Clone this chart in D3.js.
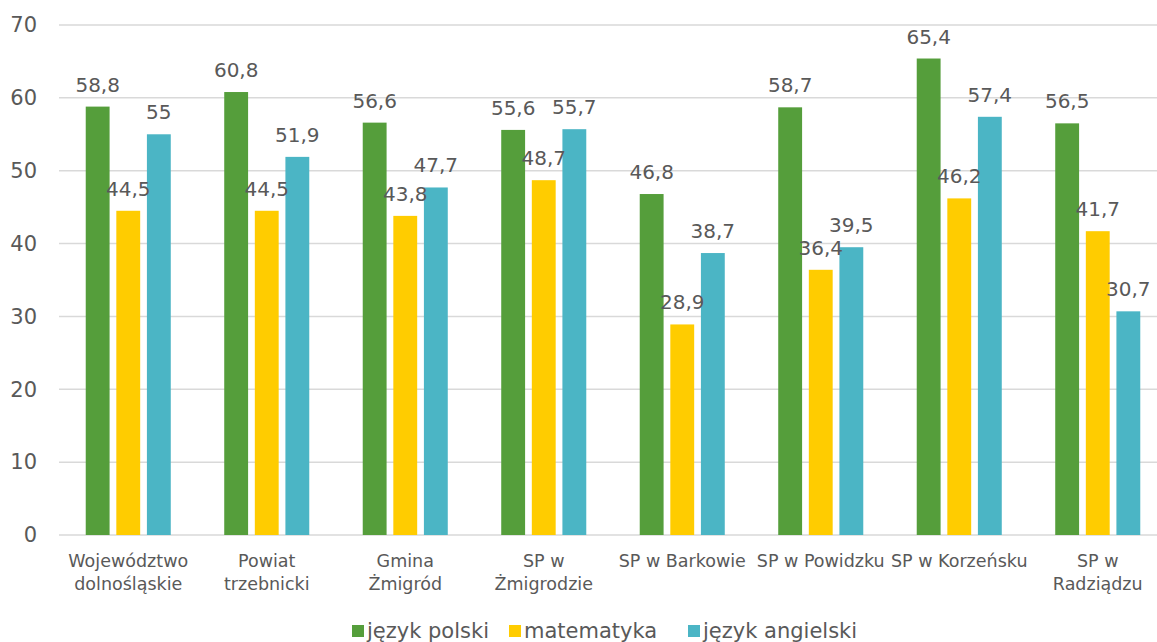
<!DOCTYPE html>
<html>
<head>
<meta charset="utf-8">
<script src="https://cdn.jsdelivr.net/npm/d3@7"></script>
<style>
  body { margin: 0; background: #fff; }
  svg { display: block; font-family: "DejaVu Sans", sans-serif; }
</style>
</head>
<body>
<svg id="chart" width="1157" height="642"></svg>
<script>
// categories (line breaks as in the original axis)
var categories = [
  'Województwo\ndolnośląskie',
  'Powiat\ntrzebnicki',
  'Gmina\nŻmigród',
  'SP w\nŻmigrodzie',
  'SP w Barkowie',
  'SP w Powidzku',
  'SP w Korzeńsku',
  'SP w\nRadziądzu'
];
var seriesNames = ['język polski', 'matematyka', 'język angielski'];
var polski = [58.8, 60.8, 56.6, 55.6, 46.8, 58.7, 65.4, 56.5];
var matematyka = [44.5, 44.5, 43.8, 48.7, 28.9, 36.4, 46.2, 41.7];
var angielski = [55, 51.9, 47.7, 55.7, 38.7, 39.5, 57.4, 30.7];
var yTicks = [0, 10, 20, 30, 40, 50, 60, 70];

var colors = ['#559e3b', '#ffcc00', '#4bb5c5'];
var textColor = '#595959';

var svg = d3.select('#chart');
var series = [polski, matematyka, angielski];

var x0 = d3.scaleBand()
  .domain(categories)
  .range([59, 1167])
  .paddingInner(0.386)
  .paddingOuter(0.193);

var x1 = d3.scaleBand()
  .domain(seriesNames)
  .range([0, x0.bandwidth()])
  .paddingInner(0.22);

var y = d3.scaleLinear()
  .domain([0, 70])
  .range([535, 25]);

// gridlines
svg.append('g')
  .selectAll('line')
  .data(yTicks)
  .enter()
  .append('line')
  .attr('x1', 59)
  .attr('x2', 1157)
  .attr('y1', function (d) { return y(d); })
  .attr('y2', function (d) { return y(d); })
  .style('stroke', '#d9d9d9')
  .style('stroke-width', 1.5);

// y tick labels
svg.append('g')
  .selectAll('text')
  .data(yTicks)
  .enter()
  .append('text')
  .attr('x', 37)
  .attr('y', function (d) { return y(d); })
  .attr('dy', '0.35em')
  .attr('text-anchor', 'end')
  .style('font-size', '21px')
  .style('fill', textColor)
  .text(function (d) { return d; });

// bars
var groups = svg.append('g')
  .selectAll('g')
  .data(categories)
  .enter()
  .append('g')
  .attr('transform', function (d) { return 'translate(' + x0(d) + ',0)'; });

var fmt = function (v) { return String(v).replace('.', ','); };

function cells(d, i) {
  return seriesNames.map(function (s, j) { return { s: s, j: j, v: series[j][i] }; });
}

groups.selectAll('rect')
  .data(cells)
  .enter()
  .append('rect')
  .attr('x', function (d) { return x1(d.s); })
  .attr('width', x1.bandwidth())
  .attr('y', function (d) { return y(d.v); })
  .attr('height', function (d) { return y(0) - y(d.v); })
  .style('fill', function (d) { return colors[d.j]; });

groups.selectAll('text.lbl')
  .data(cells)
  .enter()
  .append('text')
  .attr('class', 'lbl')
  .attr('x', function (d) { return x1(d.s) + x1.bandwidth() / 2; })
  .attr('y', function (d) { return y(d.v) - 15; })
  .attr('text-anchor', 'middle')
  .style('font-size', '20px')
  .style('fill', textColor)
  .text(function (d) { return fmt(d.v); });

// category labels
var catLabels = svg.append('g')
  .selectAll('text')
  .data(categories)
  .enter()
  .append('text')
  .attr('x', function (d) { return x0(d) + x0.bandwidth() / 2; })
  .attr('y', 567)
  .attr('text-anchor', 'middle')
  .style('font-size', '17.5px')
  .style('fill', textColor);

catLabels.selectAll('tspan')
  .data(function (d) { return d.split('\n'); })
  .enter()
  .append('tspan')
  .attr('x', function () { return d3.select(this.parentNode).attr('x'); })
  .attr('dy', function (d, i) { return i ? 23 : 0; })
  .text(function (d) { return d; });

// legend
var legendX = [352, 509, 688];
var legend = svg.append('g')
  .selectAll('g')
  .data(seriesNames)
  .enter()
  .append('g')
  .attr('transform', function (d, i) { return 'translate(' + legendX[i] + ',625)'; });

legend.append('rect')
  .attr('width', 12)
  .attr('height', 12)
  .style('fill', function (d, i) { return colors[i]; });

legend.append('text')
  .attr('x', 15)
  .attr('y', 6)
  .attr('dy', '0.35em')
  .style('font-size', '21px')
  .style('fill', textColor)
  .text(function (d) { return d; });
</script>
</body>
</html>
